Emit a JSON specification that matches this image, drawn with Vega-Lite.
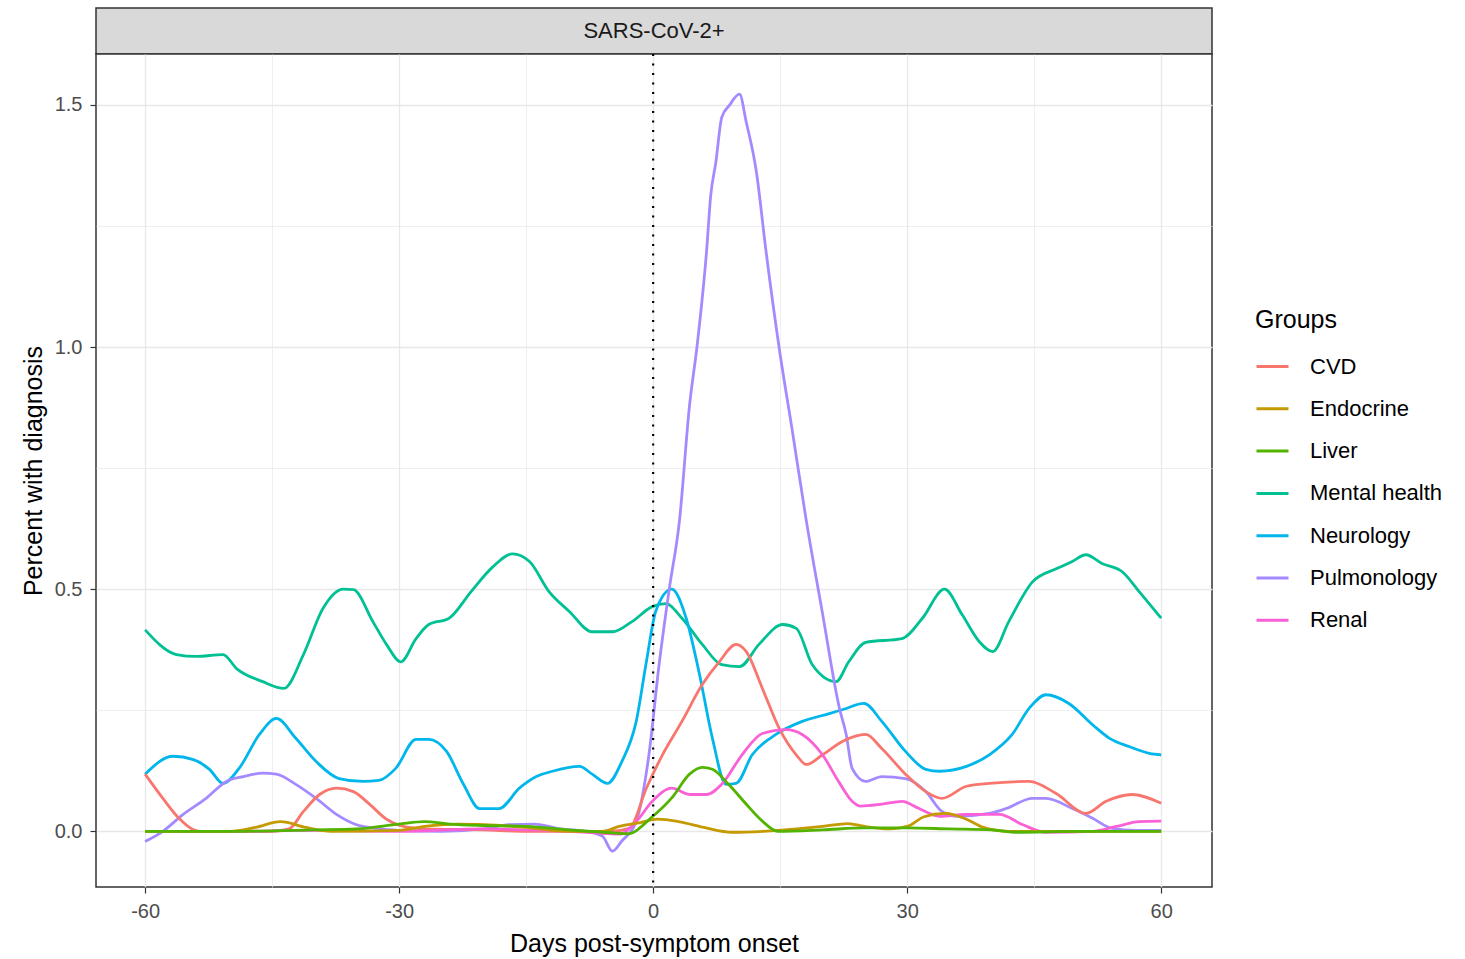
{
  "$schema": "https://vega.github.io/schema/vega-lite/v6.json",
  "padding": {"left": 20, "top": 7, "right": 5, "bottom": 0},
  "bounds": "flush",
  "spacing": 0,
  "config": {
    "font": "Liberation Sans",
    "concat": {"spacing": 0}
  },
  "datasets": {
    "series": [
      {"d": -60, "g": "Mental health", "v": 0.416}, {"d": -56.3, "g": "Mental health", "v": 0.365}, {"d": -54, "g": "Mental health", "v": 0.361}, {"d": -50.8, "g": "Mental health", "v": 0.365}, {"d": -49.2, "g": "Mental health", "v": 0.336}, {"d": -46.1, "g": "Mental health", "v": 0.309}, {"d": -43.6, "g": "Mental health", "v": 0.295}, {"d": -41.3, "g": "Mental health", "v": 0.365}, {"d": -39, "g": "Mental health", "v": 0.46}, {"d": -36.6, "g": "Mental health", "v": 0.5}, {"d": -35.4, "g": "Mental health", "v": 0.499}, {"d": -33.1, "g": "Mental health", "v": 0.433}, {"d": -31.5, "g": "Mental health", "v": 0.386}, {"d": -29.8, "g": "Mental health", "v": 0.35}, {"d": -28, "g": "Mental health", "v": 0.398}, {"d": -26.5, "g": "Mental health", "v": 0.427}, {"d": -24.1, "g": "Mental health", "v": 0.44}, {"d": -21.5, "g": "Mental health", "v": 0.495}, {"d": -19, "g": "Mental health", "v": 0.545}, {"d": -16.6, "g": "Mental health", "v": 0.573}, {"d": -14.6, "g": "Mental health", "v": 0.557}, {"d": -12.3, "g": "Mental health", "v": 0.495}, {"d": -9.9, "g": "Mental health", "v": 0.454}, {"d": -7.2, "g": "Mental health", "v": 0.412}, {"d": -4.8, "g": "Mental health", "v": 0.412}, {"d": -2.5, "g": "Mental health", "v": 0.433}, {"d": -0.1, "g": "Mental health", "v": 0.464}, {"d": 1.5, "g": "Mental health", "v": 0.47}, {"d": 3.4, "g": "Mental health", "v": 0.44}, {"d": 5.8, "g": "Mental health", "v": 0.386}, {"d": 8.1, "g": "Mental health", "v": 0.344}, {"d": 10.2, "g": "Mental health", "v": 0.34}, {"d": 12.5, "g": "Mental health", "v": 0.386}, {"d": 15.3, "g": "Mental health", "v": 0.427}, {"d": 16.9, "g": "Mental health", "v": 0.419}, {"d": 18.8, "g": "Mental health", "v": 0.344}, {"d": 21.6, "g": "Mental health", "v": 0.309}, {"d": 23.1, "g": "Mental health", "v": 0.35}, {"d": 25.1, "g": "Mental health", "v": 0.39}, {"d": 29.4, "g": "Mental health", "v": 0.398}, {"d": 31.8, "g": "Mental health", "v": 0.44}, {"d": 34.4, "g": "Mental health", "v": 0.5}, {"d": 36.5, "g": "Mental health", "v": 0.447}, {"d": 38.5, "g": "Mental health", "v": 0.392}, {"d": 40.1, "g": "Mental health", "v": 0.371}, {"d": 42, "g": "Mental health", "v": 0.433}, {"d": 44.8, "g": "Mental health", "v": 0.515}, {"d": 47.6, "g": "Mental health", "v": 0.542}, {"d": 49.5, "g": "Mental health", "v": 0.557}, {"d": 51.1, "g": "Mental health", "v": 0.571}, {"d": 53, "g": "Mental health", "v": 0.553}, {"d": 55.4, "g": "Mental health", "v": 0.536}, {"d": 57.4, "g": "Mental health", "v": 0.495}, {"d": 60, "g": "Mental health", "v": 0.44},

      {"d": -60, "g": "Neurology", "v": 0.118}, {"d": -56.7, "g": "Neurology", "v": 0.155}, {"d": -54.3, "g": "Neurology", "v": 0.148}, {"d": -52.4, "g": "Neurology", "v": 0.128}, {"d": -50.8, "g": "Neurology", "v": 0.099}, {"d": -48.9, "g": "Neurology", "v": 0.13}, {"d": -46.5, "g": "Neurology", "v": 0.2}, {"d": -44.5, "g": "Neurology", "v": 0.233}, {"d": -42.2, "g": "Neurology", "v": 0.192}, {"d": -39.8, "g": "Neurology", "v": 0.144}, {"d": -37.1, "g": "Neurology", "v": 0.109}, {"d": -34.3, "g": "Neurology", "v": 0.103}, {"d": -32.4, "g": "Neurology", "v": 0.105}, {"d": -30.4, "g": "Neurology", "v": 0.13}, {"d": -28, "g": "Neurology", "v": 0.19}, {"d": -26.5, "g": "Neurology", "v": 0.19}, {"d": -24.4, "g": "Neurology", "v": 0.165}, {"d": -22.4, "g": "Neurology", "v": 0.097}, {"d": -20.5, "g": "Neurology", "v": 0.047}, {"d": -18.2, "g": "Neurology", "v": 0.047}, {"d": -15.8, "g": "Neurology", "v": 0.089}, {"d": -13.8, "g": "Neurology", "v": 0.113}, {"d": -11.9, "g": "Neurology", "v": 0.124}, {"d": -8.7, "g": "Neurology", "v": 0.134}, {"d": -7.2, "g": "Neurology", "v": 0.118}, {"d": -5.4, "g": "Neurology", "v": 0.099}, {"d": -3.7, "g": "Neurology", "v": 0.144}, {"d": -2, "g": "Neurology", "v": 0.227}, {"d": -0.8, "g": "Neurology", "v": 0.35}, {"d": 0.3, "g": "Neurology", "v": 0.454}, {"d": 2.2, "g": "Neurology", "v": 0.5}, {"d": 3.9, "g": "Neurology", "v": 0.44}, {"d": 5.4, "g": "Neurology", "v": 0.33}, {"d": 7, "g": "Neurology", "v": 0.192}, {"d": 8.6, "g": "Neurology", "v": 0.097}, {"d": 9.8, "g": "Neurology", "v": 0.099}, {"d": 11.7, "g": "Neurology", "v": 0.158}, {"d": 14.5, "g": "Neurology", "v": 0.2}, {"d": 17.6, "g": "Neurology", "v": 0.227}, {"d": 20.8, "g": "Neurology", "v": 0.243}, {"d": 22.5, "g": "Neurology", "v": 0.252}, {"d": 24.9, "g": "Neurology", "v": 0.264}, {"d": 27, "g": "Neurology", "v": 0.227}, {"d": 29.8, "g": "Neurology", "v": 0.165}, {"d": 32.2, "g": "Neurology", "v": 0.128}, {"d": 33.8, "g": "Neurology", "v": 0.124}, {"d": 37, "g": "Neurology", "v": 0.134}, {"d": 39.7, "g": "Neurology", "v": 0.158}, {"d": 42.4, "g": "Neurology", "v": 0.2}, {"d": 44.4, "g": "Neurology", "v": 0.254}, {"d": 46.4, "g": "Neurology", "v": 0.282}, {"d": 49.1, "g": "Neurology", "v": 0.264}, {"d": 51.9, "g": "Neurology", "v": 0.22}, {"d": 53.9, "g": "Neurology", "v": 0.192}, {"d": 56.2, "g": "Neurology", "v": 0.175}, {"d": 58.6, "g": "Neurology", "v": 0.161}, {"d": 60, "g": "Neurology", "v": 0.158},

      {"d": -60, "g": "Pulmonology", "v": -0.021}, {"d": -57.9, "g": "Pulmonology", "v": 0.0}, {"d": -55.5, "g": "Pulmonology", "v": 0.035}, {"d": -52.8, "g": "Pulmonology", "v": 0.068}, {"d": -50.4, "g": "Pulmonology", "v": 0.103}, {"d": -48.4, "g": "Pulmonology", "v": 0.113}, {"d": -46.1, "g": "Pulmonology", "v": 0.12}, {"d": -44.5, "g": "Pulmonology", "v": 0.118}, {"d": -42.2, "g": "Pulmonology", "v": 0.097}, {"d": -39.8, "g": "Pulmonology", "v": 0.068}, {"d": -37.4, "g": "Pulmonology", "v": 0.035}, {"d": -35.1, "g": "Pulmonology", "v": 0.014}, {"d": -32.7, "g": "Pulmonology", "v": 0.006}, {"d": -30, "g": "Pulmonology", "v": 0.002}, {"d": -25, "g": "Pulmonology", "v": 0.0}, {"d": -20, "g": "Pulmonology", "v": 0.005}, {"d": -17, "g": "Pulmonology", "v": 0.014}, {"d": -14, "g": "Pulmonology", "v": 0.015}, {"d": -11, "g": "Pulmonology", "v": 0.005}, {"d": -8, "g": "Pulmonology", "v": 0.0}, {"d": -6, "g": "Pulmonology", "v": -0.01}, {"d": -4.8, "g": "Pulmonology", "v": -0.041}, {"d": -3.7, "g": "Pulmonology", "v": -0.02}, {"d": -2, "g": "Pulmonology", "v": 0.02}, {"d": -0.5, "g": "Pulmonology", "v": 0.158}, {"d": 0.7, "g": "Pulmonology", "v": 0.344}, {"d": 1.9, "g": "Pulmonology", "v": 0.5}, {"d": 3.1, "g": "Pulmonology", "v": 0.64}, {"d": 4.3, "g": "Pulmonology", "v": 0.88}, {"d": 5.2, "g": "Pulmonology", "v": 1.004}, {"d": 6.3, "g": "Pulmonology", "v": 1.196}, {"d": 6.8, "g": "Pulmonology", "v": 1.313}, {"d": 7.4, "g": "Pulmonology", "v": 1.381}, {"d": 8.1, "g": "Pulmonology", "v": 1.474}, {"d": 9, "g": "Pulmonology", "v": 1.499}, {"d": 10.2, "g": "Pulmonology", "v": 1.522}, {"d": 11, "g": "Pulmonology", "v": 1.464}, {"d": 12.2, "g": "Pulmonology", "v": 1.361}, {"d": 13.3, "g": "Pulmonology", "v": 1.202}, {"d": 14.9, "g": "Pulmonology", "v": 0.996}, {"d": 16.4, "g": "Pulmonology", "v": 0.831}, {"d": 18.1, "g": "Pulmonology", "v": 0.64}, {"d": 20, "g": "Pulmonology", "v": 0.45}, {"d": 22, "g": "Pulmonology", "v": 0.254}, {"d": 22.8, "g": "Pulmonology", "v": 0.2}, {"d": 23.5, "g": "Pulmonology", "v": 0.13}, {"d": 25.1, "g": "Pulmonology", "v": 0.103}, {"d": 27, "g": "Pulmonology", "v": 0.113}, {"d": 29.8, "g": "Pulmonology", "v": 0.109}, {"d": 32.2, "g": "Pulmonology", "v": 0.082}, {"d": 34.1, "g": "Pulmonology", "v": 0.041}, {"d": 35.8, "g": "Pulmonology", "v": 0.031}, {"d": 39.7, "g": "Pulmonology", "v": 0.037}, {"d": 41.7, "g": "Pulmonology", "v": 0.047}, {"d": 44.8, "g": "Pulmonology", "v": 0.068}, {"d": 46.4, "g": "Pulmonology", "v": 0.068}, {"d": 49.5, "g": "Pulmonology", "v": 0.047}, {"d": 51.9, "g": "Pulmonology", "v": 0.027}, {"d": 54.2, "g": "Pulmonology", "v": 0.006}, {"d": 57, "g": "Pulmonology", "v": 0.002}, {"d": 60, "g": "Pulmonology", "v": 0.002},

      {"d": -60, "g": "CVD", "v": 0.118}, {"d": -57.9, "g": "CVD", "v": 0.068}, {"d": -56, "g": "CVD", "v": 0.027}, {"d": -53.6, "g": "CVD", "v": 0.0}, {"d": -50, "g": "CVD", "v": 0.0}, {"d": -45, "g": "CVD", "v": 0.0}, {"d": -43, "g": "CVD", "v": 0.005}, {"d": -41.3, "g": "CVD", "v": 0.041}, {"d": -39.4, "g": "CVD", "v": 0.076}, {"d": -37.4, "g": "CVD", "v": 0.089}, {"d": -35.4, "g": "CVD", "v": 0.082}, {"d": -33.5, "g": "CVD", "v": 0.056}, {"d": -31.5, "g": "CVD", "v": 0.025}, {"d": -29.5, "g": "CVD", "v": 0.01}, {"d": -27, "g": "CVD", "v": 0.005}, {"d": -20, "g": "CVD", "v": 0.003}, {"d": -15, "g": "CVD", "v": 0.0}, {"d": -10, "g": "CVD", "v": 0.0}, {"d": -5, "g": "CVD", "v": 0.0}, {"d": -2.8, "g": "CVD", "v": 0.006}, {"d": -0.8, "g": "CVD", "v": 0.089}, {"d": 1.1, "g": "CVD", "v": 0.158}, {"d": 3.4, "g": "CVD", "v": 0.227}, {"d": 5.8, "g": "CVD", "v": 0.303}, {"d": 7.8, "g": "CVD", "v": 0.35}, {"d": 9.8, "g": "CVD", "v": 0.386}, {"d": 11, "g": "CVD", "v": 0.371}, {"d": 12.9, "g": "CVD", "v": 0.295}, {"d": 14.9, "g": "CVD", "v": 0.212}, {"d": 16.9, "g": "CVD", "v": 0.158}, {"d": 18.1, "g": "CVD", "v": 0.138}, {"d": 20, "g": "CVD", "v": 0.158}, {"d": 22.4, "g": "CVD", "v": 0.186}, {"d": 25.1, "g": "CVD", "v": 0.2}, {"d": 27, "g": "CVD", "v": 0.171}, {"d": 29.8, "g": "CVD", "v": 0.118}, {"d": 32.2, "g": "CVD", "v": 0.082}, {"d": 34.1, "g": "CVD", "v": 0.068}, {"d": 37, "g": "CVD", "v": 0.093}, {"d": 39.7, "g": "CVD", "v": 0.099}, {"d": 44.4, "g": "CVD", "v": 0.103}, {"d": 47.6, "g": "CVD", "v": 0.078}, {"d": 51.1, "g": "CVD", "v": 0.037}, {"d": 53.5, "g": "CVD", "v": 0.062}, {"d": 56.6, "g": "CVD", "v": 0.076}, {"d": 60, "g": "CVD", "v": 0.058},

      {"d": -60, "g": "Renal", "v": 0.0}, {"d": -50, "g": "Renal", "v": 0.0}, {"d": -40, "g": "Renal", "v": 0.002}, {"d": -30, "g": "Renal", "v": 0.0}, {"d": -20, "g": "Renal", "v": 0.005}, {"d": -15, "g": "Renal", "v": 0.003}, {"d": -10, "g": "Renal", "v": 0.0}, {"d": -6, "g": "Renal", "v": -0.004}, {"d": -4, "g": "Renal", "v": -0.006}, {"d": -2, "g": "Renal", "v": 0.02}, {"d": -0.1, "g": "Renal", "v": 0.062}, {"d": 2.2, "g": "Renal", "v": 0.089}, {"d": 4.3, "g": "Renal", "v": 0.076}, {"d": 6.3, "g": "Renal", "v": 0.076}, {"d": 8.1, "g": "Renal", "v": 0.097}, {"d": 10.5, "g": "Renal", "v": 0.158}, {"d": 12.9, "g": "Renal", "v": 0.202}, {"d": 15.7, "g": "Renal", "v": 0.21}, {"d": 17.6, "g": "Renal", "v": 0.2}, {"d": 20, "g": "Renal", "v": 0.158}, {"d": 22, "g": "Renal", "v": 0.1}, {"d": 23.5, "g": "Renal", "v": 0.062}, {"d": 24.5, "g": "Renal", "v": 0.052}, {"d": 27, "g": "Renal", "v": 0.056}, {"d": 29.4, "g": "Renal", "v": 0.062}, {"d": 31.4, "g": "Renal", "v": 0.047}, {"d": 33.8, "g": "Renal", "v": 0.031}, {"d": 37, "g": "Renal", "v": 0.035}, {"d": 40.9, "g": "Renal", "v": 0.035}, {"d": 43.6, "g": "Renal", "v": 0.014}, {"d": 46.4, "g": "Renal", "v": -0.002}, {"d": 51.9, "g": "Renal", "v": 0.0}, {"d": 54.7, "g": "Renal", "v": 0.01}, {"d": 57.4, "g": "Renal", "v": 0.02}, {"d": 60, "g": "Renal", "v": 0.021},

      {"d": -60, "g": "Endocrine", "v": 0.0}, {"d": -50, "g": "Endocrine", "v": 0.0}, {"d": -47, "g": "Endocrine", "v": 0.008}, {"d": -44, "g": "Endocrine", "v": 0.02}, {"d": -41, "g": "Endocrine", "v": 0.008}, {"d": -38, "g": "Endocrine", "v": 0.0}, {"d": -30, "g": "Endocrine", "v": 0.002}, {"d": -27, "g": "Endocrine", "v": 0.01}, {"d": -23, "g": "Endocrine", "v": 0.015}, {"d": -18, "g": "Endocrine", "v": 0.012}, {"d": -15, "g": "Endocrine", "v": 0.008}, {"d": -10, "g": "Endocrine", "v": 0.0}, {"d": -6, "g": "Endocrine", "v": 0.0}, {"d": -4, "g": "Endocrine", "v": 0.01}, {"d": -1.5, "g": "Endocrine", "v": 0.018}, {"d": 0.5, "g": "Endocrine", "v": 0.025}, {"d": 3, "g": "Endocrine", "v": 0.02}, {"d": 6, "g": "Endocrine", "v": 0.008}, {"d": 9.3, "g": "Endocrine", "v": -0.002}, {"d": 13, "g": "Endocrine", "v": 0.0}, {"d": 17, "g": "Endocrine", "v": 0.005}, {"d": 20, "g": "Endocrine", "v": 0.01}, {"d": 23, "g": "Endocrine", "v": 0.016}, {"d": 25, "g": "Endocrine", "v": 0.01}, {"d": 28, "g": "Endocrine", "v": 0.005}, {"d": 30, "g": "Endocrine", "v": 0.01}, {"d": 32, "g": "Endocrine", "v": 0.03}, {"d": 34.5, "g": "Endocrine", "v": 0.037}, {"d": 37, "g": "Endocrine", "v": 0.025}, {"d": 39, "g": "Endocrine", "v": 0.008}, {"d": 42, "g": "Endocrine", "v": 0.0}, {"d": 50, "g": "Endocrine", "v": 0.0}, {"d": 60, "g": "Endocrine", "v": 0.0},

      {"d": -60, "g": "Liver", "v": 0.0}, {"d": -50, "g": "Liver", "v": 0.0}, {"d": -40, "g": "Liver", "v": 0.003}, {"d": -35, "g": "Liver", "v": 0.005}, {"d": -30, "g": "Liver", "v": 0.015}, {"d": -27, "g": "Liver", "v": 0.02}, {"d": -24, "g": "Liver", "v": 0.015}, {"d": -20, "g": "Liver", "v": 0.012}, {"d": -15, "g": "Liver", "v": 0.01}, {"d": -10, "g": "Liver", "v": 0.003}, {"d": -5, "g": "Liver", "v": -0.003}, {"d": -3, "g": "Liver", "v": -0.005}, {"d": -0.1, "g": "Liver", "v": 0.03}, {"d": 2.2, "g": "Liver", "v": 0.069}, {"d": 4.3, "g": "Liver", "v": 0.118}, {"d": 5.8, "g": "Liver", "v": 0.132}, {"d": 7, "g": "Liver", "v": 0.128}, {"d": 8.9, "g": "Liver", "v": 0.097}, {"d": 11, "g": "Liver", "v": 0.056}, {"d": 12.9, "g": "Liver", "v": 0.021}, {"d": 14.7, "g": "Liver", "v": 0.0}, {"d": 20, "g": "Liver", "v": 0.003}, {"d": 25, "g": "Liver", "v": 0.007}, {"d": 30, "g": "Liver", "v": 0.007}, {"d": 35, "g": "Liver", "v": 0.005}, {"d": 40, "g": "Liver", "v": 0.003}, {"d": 43, "g": "Liver", "v": -0.002}, {"d": 50, "g": "Liver", "v": 0.0}, {"d": 60, "g": "Liver", "v": 0.0}
    ],
    "strip": [{"t": "SARS-CoV-2+"}],
    "onset": [{"d": 0}]
  },
  "vconcat": [
    {
      "width": 1116,
      "height": 46,
      "view": {"fill": "#d9d9d9", "stroke": "#333333", "strokeWidth": 1.5},
      "data": {"name": "strip"},
      "mark": {"type": "text", "fontSize": 22, "color": "#1a1a1a", "font": "Liberation Sans"},
      "encoding": {"text": {"field": "t", "type": "nominal"}}
    },
    {
      "width": 1116,
      "height": 833,
      "view": {"fill": "white", "stroke": "#333333", "strokeWidth": 1.5},
      "layer": [
        {
          "data": {"name": "series"},
          "mark": {"type": "line", "strokeWidth": 2.8, "interpolate": "monotone"},
          "encoding": {
            "x": {
              "field": "d", "type": "quantitative",
              "scale": {"domain": [-65.8, 66], "nice": false, "zero": false},
              "axis": {
                "title": "Days post-symptom onset",
                "values": [-60, -45, -30, -15, 0, 15, 30, 45, 60],
                "labelExpr": "datum.value % 30 === 0 ? ('' + datum.value) : ''",
                "domain": false,
                "tickSize": 6, "tickColor": "#333333", "tickWidth": 1.2,
                "tickOpacity": {"condition": {"test": "datum.value % 30 === 0", "value": 1}, "value": 0},
                "gridColor": "#e8e8e8",
                "gridWidth": {"condition": {"test": "datum.value % 30 === 0", "value": 1.3}, "value": 0.7},
                "labelFontSize": 20, "labelColor": "#4d4d4d", "labelPadding": 8,
                "titleFontSize": 25, "titleFontWeight": "normal", "titleColor": "#000000", "titlePadding": 10
              }
            },
            "y": {
              "field": "v", "type": "quantitative",
              "scale": {"domain": [-0.115, 1.605], "nice": false, "zero": false},
              "axis": {
                "title": "Percent with diagnosis",
                "values": [0, 0.25, 0.5, 0.75, 1, 1.25, 1.5],
                "format": ".1f",
                "labelExpr": "datum.value % 0.5 === 0 ? datum.label : ''",
                "domain": false,
                "tickSize": 6, "tickColor": "#333333", "tickWidth": 1.2,
                "tickOpacity": {"condition": {"test": "datum.value % 0.5 === 0", "value": 1}, "value": 0},
                "gridColor": "#e8e8e8",
                "gridWidth": {"condition": {"test": "datum.value % 0.5 === 0", "value": 1.3}, "value": 0.7},
                "labelFontSize": 20, "labelColor": "#4d4d4d", "labelPadding": 8,
                "titleFontSize": 25, "titleFontWeight": "normal", "titleColor": "#000000", "titlePadding": 8
              }
            },
            "color": {
              "field": "g", "type": "nominal",
              "scale": {
                "domain": ["CVD", "Endocrine", "Liver", "Mental health", "Neurology", "Pulmonology", "Renal"],
                "range": ["#F8766D", "#C49A00", "#53B400", "#00C094", "#00B6EB", "#A58AFF", "#FB61D7"]
              },
              "legend": {
                "title": "Groups",
                "orient": "none",
                "legendX": 1159,
                "legendY": 300,
                "titleFontSize": 25, "titleFontWeight": "normal", "titleColor": "#000000", "titlePadding": 16,
                "labelFontSize": 22, "labelColor": "#000000", "labelOffset": 20,
                "symbolType": "stroke", "symbolStrokeWidth": 3, "symbolSize": 1024,
                "rowPadding": 13.3
              }
            }
          }
        },
        {
          "data": {"name": "onset"},
          "mark": {"type": "rule", "color": "#000000", "strokeWidth": 2.2, "strokeDash": [2, 7.5]},
          "encoding": {"x": {"field": "d", "type": "quantitative"}}
        }
      ]
    }
  ]
}
